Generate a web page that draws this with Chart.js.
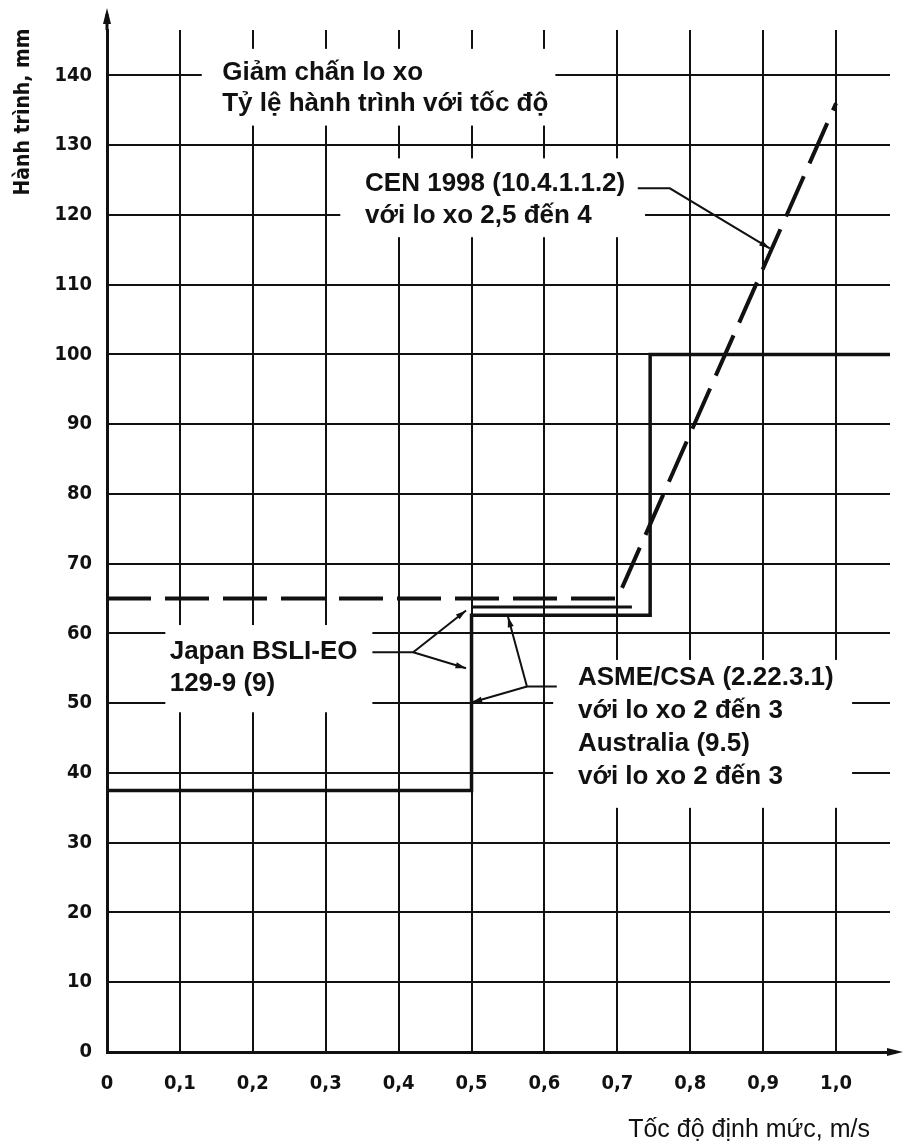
<!DOCTYPE html>
<html>
<head>
<meta charset="utf-8">
<script src="https://cdn.jsdelivr.net/npm/chart.js@4.4.1/dist/chart.umd.min.js"></script>
<style>html,body{margin:0;padding:0;background:#fff}</style>
</head>
<body>
<canvas id="chart" width="904" height="1148"></canvas>
<script>
// ---- data ----
const xTickLabels = ['0', '0,1', '0,2', '0,3', '0,4', '0,5', '0,6', '0,7', '0,8', '0,9', '1,0'];
const yTickLabels = ['0', '10', '20', '30', '40', '50', '60', '70', '80', '90', '100', '110', '120', '130', '140'];

// CEN 1998 (dashed)
const cenX = [0, 0.7, 1.0];
const cenY = [65, 65, 136];
// ASME/CSA + Australia (solid step)
const asmeX = [0, 0.5, 0.5, 0.745, 0.745, 1.074];
const asmeY = [37.5, 37.5, 62.6, 62.6, 100, 100];
// Japan BSLI-EO
const japanX = [0.5, 0.72];
const japanY = [63.8, 63.8];

function pts(xs, ys) { return xs.map((x, i) => ({x: x, y: ys[i]})); }

// ---- annotation layout (data coords) ----
const notes = [
  {lines: ['Giảm chấn lo xo', 'Tỷ lệ hành trình với tốc độ'], x: 0.158, y: 140.3, lh: 31,
   box: [0.130, 143.8, 0.615, 132.8]},
  {lines: ['CEN 1998 (10.4.1.1.2)', 'với lo xo 2,5 đến 4'], x: 0.354, y: 124.5, lh: 32,
   box: [0.320, 128.1, 0.738, 116.8]},
  {lines: ['Japan BSLI-EO', '129-9 (9)'], x: 0.086, y: 57.3, lh: 32,
   box: [0.080, 61.2, 0.364, 48.7]},
  {lines: ['ASME/CSA (2.22.3.1)', 'với lo xo 2 đến 3', 'Australia (9.5)', 'với lo xo 2 đến 3'], x: 0.646, y: 53.7, lh: 33,
   box: [0.612, 56.2, 1.022, 35.0]}
];
const leaders = [
  [[0.728, 123.8], [0.772, 123.8], [0.909, 115.2]],
  [[0.364, 57.3], [0.42, 57.3], [0.4925, 63.3]],
  [[0.42, 57.3], [0.4925, 55.0]],
  [[0.617, 52.4], [0.576, 52.4], [0.55, 62.4]],
  [[0.576, 52.4], [0.5, 50.1]]
];

const narrow = "'DejaVu Sans Condensed', 'DejaVu Sans', sans-serif";
const tickFont = {family: narrow, size: 20, weight: 'bold'};

const overlay = {
  id: 'overlay',
  beforeDatasetsDraw(chart) {
    const ctx = chart.ctx, xs = chart.scales.x, ys = chart.scales.y;
    ctx.save();
    ctx.fillStyle = '#fff';
    notes.forEach(n => {
      const x1 = xs.getPixelForValue(n.box[0]), y1 = ys.getPixelForValue(n.box[1]);
      const x2 = xs.getPixelForValue(n.box[2]), y2 = ys.getPixelForValue(n.box[3]);
      ctx.fillRect(x1, y1, x2 - x1, y2 - y1);
    });
    ctx.restore();
  },
  afterDatasetsDraw(chart) {
    const ctx = chart.ctx, xs = chart.scales.x, ys = chart.scales.y, a = chart.chartArea;
    ctx.save();
    ctx.fillStyle = '#111';
    ctx.font = "bold 26px 'Liberation Sans', Arial, sans-serif";
    ctx.textBaseline = 'middle';
    notes.forEach(n => {
      const px = xs.getPixelForValue(n.x), py = ys.getPixelForValue(n.y);
      n.lines.forEach((t, i) => ctx.fillText(t, px, py + i * n.lh));
    });

    // leader lines with small arrow heads
    ctx.strokeStyle = '#111';
    ctx.lineWidth = 2;
    leaders.forEach(l => {
      const p = l.map(q => [xs.getPixelForValue(q[0]), ys.getPixelForValue(q[1])]);
      ctx.beginPath();
      ctx.moveTo(p[0][0], p[0][1]);
      for (let i = 1; i < p.length; i++) ctx.lineTo(p[i][0], p[i][1]);
      ctx.stroke();
      const e = p[p.length - 1], s = p[p.length - 2];
      const ang = Math.atan2(e[1] - s[1], e[0] - s[0]);
      ctx.beginPath();
      ctx.moveTo(e[0], e[1]);
      ctx.lineTo(e[0] - 11 * Math.cos(ang - 0.28), e[1] - 11 * Math.sin(ang - 0.28));
      ctx.lineTo(e[0] - 11 * Math.cos(ang + 0.28), e[1] - 11 * Math.sin(ang + 0.28));
      ctx.closePath();
      ctx.fill();
    });

    // axis arrows
    ctx.lineWidth = 3;
    ctx.beginPath();
    ctx.moveTo(a.left, a.top);
    ctx.lineTo(a.left, 14);
    ctx.moveTo(a.right, a.bottom);
    ctx.lineTo(896, a.bottom);
    ctx.stroke();
    ctx.beginPath();
    ctx.moveTo(a.left, 8); ctx.lineTo(a.left - 4, 24); ctx.lineTo(a.left + 4, 24); ctx.closePath();
    ctx.moveTo(903, a.bottom); ctx.lineTo(887, a.bottom - 4); ctx.lineTo(887, a.bottom + 4); ctx.closePath();
    ctx.fill();

    // axis titles
    ctx.font = "bold 21px " + narrow;
    ctx.save();
    ctx.translate(24, 112);
    ctx.rotate(-Math.PI / 2);
    ctx.textAlign = 'center';
    ctx.fillText('Hành trình, mm', 0, 0);
    ctx.restore();
    ctx.font = "25px 'Liberation Sans', Arial, sans-serif";
    ctx.textAlign = 'right';
    ctx.fillText('Tốc độ định mức, m/s', 870, 1130);
    ctx.restore();
  }
};

new Chart(document.getElementById('chart'), {
  type: 'scatter',
  data: {
    datasets: [
      {label: 'CEN 1998', data: pts(cenX, cenY), showLine: true, borderColor: '#111',
       borderWidth: 4, borderDash: [44, 14], pointRadius: 0, fill: false},
      {label: 'ASME/CSA, Australia', data: pts(asmeX, asmeY), showLine: true, borderColor: '#111',
       borderWidth: 3.5, pointRadius: 0, fill: false},
      {label: 'Japan BSLI-EO', data: pts(japanX, japanY), showLine: true, borderColor: '#111',
       borderWidth: 3, pointRadius: 0, fill: false}
    ]
  },
  options: {
    responsive: false,
    animation: false,
    devicePixelRatio: 1,
    layout: {padding: {left: 0, right: 14, top: 30, bottom: 0}},
    plugins: {legend: {display: false}, tooltip: {enabled: false}},
    scales: {
      x: {
        type: 'linear', min: 0, max: 1.074,
        afterFit: s => { s.height = 96; },
        grid: {color: '#111', lineWidth: 2, drawTicks: false},
        border: {color: '#111', width: 3},
        ticks: {stepSize: 0.1, includeBounds: false, padding: 20, color: '#111', font: tickFont,
                maxRotation: 0, autoSkip: false,
                callback: (v, i) => xTickLabels[i]}
      },
      y: {
        type: 'linear', min: 0, max: 146.5,
        afterFit: s => { s.width = 107; },
        grid: {color: '#111', lineWidth: 2, drawTicks: false},
        border: {color: '#111', width: 3},
        ticks: {stepSize: 10, includeBounds: false, padding: 15, color: '#111', font: tickFont,
                autoSkip: false,
                callback: (v, i) => yTickLabels[i]}
      }
    }
  },
  plugins: [overlay]
});
</script>
</body>
</html>
